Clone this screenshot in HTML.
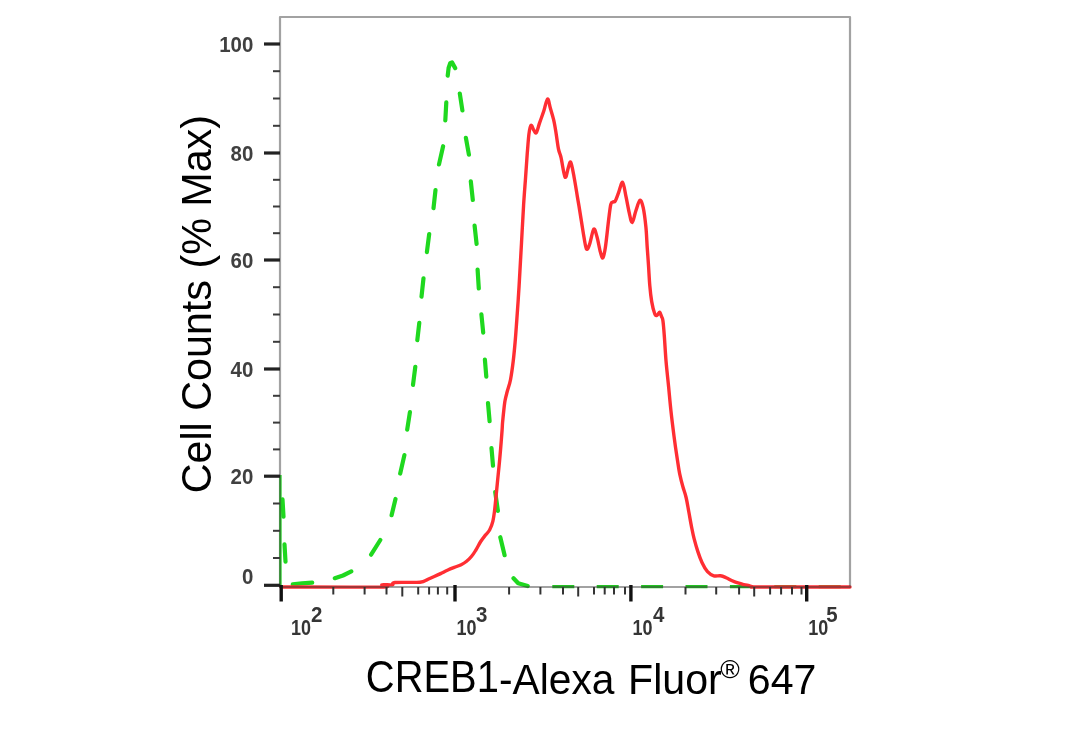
<!DOCTYPE html><html><head><meta charset="utf-8"><style>html,body{margin:0;padding:0;background:#fff;overflow:hidden}svg{display:block;filter:blur(0.35px)}</style></head><body><svg width="1084" height="729" viewBox="0 0 1084 729">
<rect width="1084" height="729" fill="#fff"/>
<line x1="280.4" y1="475" x2="280.4" y2="586" stroke="#1fd81f" stroke-width="2.4"/>
<path d="M282.5 499.3 L283.5 516.7 M284.5 544.3 L285.5 561.7 M292.8 584.4 L302.0 583.3 L312.2 582.6 M334.8 578.2 L343.0 575.5 L351.3 571.4 M371.1 554.7 L380.3 540.0 M391.6 515.2 L395.5 499.0 M400.2 473.5 L404.4 455.1 M407.2 429.6 L409.9 412.2 M413.0 384.9 L415.3 366.8 M417.3 340.2 L419.3 322.8 M421.5 296.7 L423.5 278.3 M426.9 252.1 L429.2 234.0 M433.5 208.2 L435.5 190.1 M439.0 164.4 L443.1 146.2 M445.3 120.5 L446.3 102.3 M447.7 75.7 L448.6 68.0 L450.2 63.2 L452.0 62.4 L455.2 68.1 M459.8 93.5 L462.4 110.5 M465.9 137.8 L468.9 154.7 M470.8 181.3 L472.8 200.0 M474.6 225.7 L476.6 243.9 M477.6 269.6 L478.8 288.5 M481.4 314.4 L483.2 332.6 M484.9 359.7 L486.3 376.6 M488.0 403.0 L489.6 421.2 M491.5 448.1 L493.0 465.7 M495.2 492.0 L497.9 510.9 M500.3 537.2 L504.6 555.2 M513.5 578.2 L518.2 583.2 L527.7 586.0" fill="none" stroke="#1fd81f" stroke-width="4.2" stroke-linecap="round" stroke-linejoin="round"/>
<path d="M552.3 586.6 L574.3 586.6 M596.7 586.6 L618.7 586.6 M641.1 586.6 L663.1 586.6 M685.5 586.6 L707.5 586.6 M729.9 586.6 L751.9 586.6 M774.3 586.6 L796.3 586.6 M818.7 586.6 L840.7 586.6" fill="none" stroke="#22c322" stroke-width="3.4"/>
<path d="M281.0 587.0 C297.6 587.0 363.5 587.4 380.3 587.0 C397.1 586.6 380.0 585.2 382.0 584.8 C384.0 584.4 390.1 585.2 392.3 584.8 C394.5 584.4 390.4 582.9 395.0 582.5 C399.6 582.1 414.7 582.7 420.0 582.2 C425.3 581.8 424.6 580.7 426.9 579.8 C429.2 578.9 431.4 577.7 433.7 576.7 C436.0 575.7 438.3 574.7 440.6 573.6 C442.9 572.5 445.1 571.2 447.4 570.2 C449.7 569.2 452.0 568.3 454.3 567.4 C456.6 566.5 459.1 565.7 461.2 564.7 C463.2 563.7 464.9 562.7 466.6 561.3 C468.3 559.9 469.9 558.3 471.4 556.5 C472.9 554.7 474.1 553.0 475.6 550.5 C477.2 548.0 479.1 544.0 480.7 541.5 C482.3 539.0 483.7 537.3 485.2 535.4 C486.7 533.5 488.3 532.4 489.6 530.0 C490.9 527.6 492.1 524.4 492.9 521.1 C493.7 517.8 494.1 514.3 494.6 510.4 C495.1 506.5 495.4 502.4 495.9 497.9 C496.3 493.4 496.8 489.0 497.3 483.6 C497.8 478.2 498.5 471.6 499.1 465.7 C499.7 459.8 500.2 453.8 500.7 447.9 C501.2 441.9 501.8 434.3 502.1 430.0 C502.4 425.7 502.3 425.3 502.6 422.2 C502.9 419.1 503.3 414.8 503.7 411.2 C504.1 407.6 504.5 403.5 505.1 400.3 C505.7 397.1 506.2 395.4 507.1 392.0 C508.0 388.6 509.5 384.9 510.5 379.7 C511.5 374.4 512.5 367.1 513.3 360.5 C514.1 353.9 514.7 346.8 515.3 340.0 C515.9 333.2 516.3 326.7 516.8 320.0 C517.3 313.3 517.8 306.6 518.2 300.0 C518.6 293.4 518.9 289.8 519.4 280.3 C519.9 270.8 520.8 255.6 521.5 243.0 C522.2 230.4 522.9 216.0 523.6 205.0 C524.3 194.0 525.0 185.7 525.6 177.2 C526.2 168.7 526.7 161.2 527.2 154.1 C527.8 147.0 528.3 139.2 528.9 134.4 C529.5 129.6 530.2 126.0 531.0 125.3 C531.8 124.6 532.9 129.1 533.8 130.3 C534.7 131.5 535.3 133.9 536.3 132.7 C537.3 131.5 538.4 126.5 539.6 122.9 C540.8 119.3 542.4 115.3 543.7 111.3 C545.0 107.3 546.4 99.5 547.5 99.0 C548.6 98.5 549.3 104.6 550.3 108.0 C551.3 111.4 552.6 115.5 553.6 119.6 C554.6 123.7 555.2 127.8 556.0 132.7 C556.8 137.6 557.7 145.1 558.5 149.2 C559.3 153.3 559.9 152.7 561.0 157.4 C562.1 162.1 563.9 175.5 565.1 177.2 C566.3 178.8 567.5 169.8 568.4 167.3 C569.3 164.8 569.8 160.8 570.8 162.4 C571.8 164.1 573.0 171.4 574.1 177.2 C575.2 182.9 576.6 192.1 577.4 196.9 C578.2 201.7 578.0 200.2 579.0 206.1 C580.0 212.0 582.0 225.3 583.2 232.4 C584.4 239.5 585.3 246.9 586.4 248.8 C587.5 250.7 588.5 247.2 589.7 243.9 C590.9 240.6 592.6 230.2 593.8 229.1 C595.0 228.0 596.0 233.5 597.1 237.3 C598.2 241.1 599.4 248.7 600.4 252.1 C601.4 255.5 602.1 258.7 602.9 257.9 C603.7 257.1 604.4 253.6 605.4 247.2 C606.4 240.8 607.8 226.3 608.7 219.2 C609.6 212.1 610.1 207.3 610.8 204.4 C611.5 201.5 612.4 202.5 613.1 201.9 C613.8 201.3 614.3 202.6 615.2 201.1 C616.1 199.6 617.3 196.1 618.5 192.9 C619.7 189.8 621.4 181.6 622.6 182.2 C623.8 182.8 624.8 191.1 625.9 196.2 C627.0 201.3 628.2 208.2 629.2 212.6 C630.2 217.0 631.1 222.8 632.2 222.5 C633.3 222.2 634.5 214.7 635.8 211.0 C637.1 207.3 638.7 200.9 639.9 200.3 C641.1 199.8 642.2 203.2 643.2 207.7 C644.2 212.1 645.2 220.2 645.9 227.0 C646.6 233.8 646.8 241.8 647.3 248.5 C647.8 255.2 648.2 260.8 648.6 267.0 C649.0 273.2 649.3 279.8 649.8 285.6 C650.3 291.4 650.9 296.9 651.7 301.6 C652.5 306.3 653.9 311.7 654.8 314.0 C655.7 316.3 656.4 315.5 657.2 315.2 C658.0 314.9 659.0 311.9 659.7 312.1 C660.4 312.3 661.0 315.0 661.5 316.4 C662.0 317.8 662.4 317.1 662.9 320.5 C663.4 323.9 663.9 330.2 664.4 337.1 C664.9 344.0 665.4 353.6 666.1 361.9 C666.8 370.1 667.8 378.4 668.6 386.6 C669.4 394.9 670.1 403.1 671.0 411.4 C671.9 419.6 673.0 428.3 674.0 436.1 C675.0 443.9 676.2 452.0 677.2 458.4 C678.2 464.8 678.8 469.6 679.8 474.3 C680.8 479.0 681.8 482.9 682.9 486.8 C684.0 490.7 685.1 493.3 686.1 497.5 C687.1 501.7 687.9 507.0 688.8 511.8 C689.7 516.6 690.5 521.6 691.4 526.1 C692.3 530.6 693.0 534.4 694.1 538.6 C695.2 542.8 696.4 547.1 697.7 551.1 C699.0 555.1 700.5 559.3 702.1 562.7 C703.7 566.1 705.5 569.4 707.5 571.6 C709.5 573.8 711.6 575.1 713.8 575.8 C716.0 576.5 718.5 575.5 720.5 575.8 C722.5 576.1 724.2 576.9 726.1 577.7 C728.0 578.5 729.8 579.7 731.6 580.5 C733.4 581.3 735.2 582.1 737.1 582.7 C739.0 583.3 740.9 583.8 742.7 584.3 C744.6 584.8 746.4 584.9 748.2 585.4 C750.0 585.9 751.5 586.7 753.5 587.0 C755.5 587.3 743.9 587.0 760.0 587.0 C776.1 587.0 835.0 587.0 850.0 587.0" fill="none" stroke="#ff2e33" stroke-width="3.4" stroke-linejoin="round" stroke-linecap="round"/>
<path d="M280 587 V17 H850 V587 Z" fill="none" stroke="#3c3c3c" stroke-opacity="0.48" stroke-width="2.2" stroke-linejoin="round"/>
<line x1="264" y1="585.3" x2="280" y2="585.3" stroke="#222" stroke-width="3.2"/>
<line x1="273" y1="558.0" x2="280" y2="558.0" stroke="#3a3a3a" stroke-width="2"/>
<line x1="273" y1="530.8" x2="280" y2="530.8" stroke="#3a3a3a" stroke-width="2"/>
<line x1="273" y1="503.5" x2="280" y2="503.5" stroke="#3a3a3a" stroke-width="2"/>
<line x1="264" y1="476.2" x2="280" y2="476.2" stroke="#222" stroke-width="3.2"/>
<line x1="273" y1="449.4" x2="280" y2="449.4" stroke="#3a3a3a" stroke-width="2"/>
<line x1="273" y1="422.6" x2="280" y2="422.6" stroke="#3a3a3a" stroke-width="2"/>
<line x1="273" y1="395.8" x2="280" y2="395.8" stroke="#3a3a3a" stroke-width="2"/>
<line x1="264" y1="369.0" x2="280" y2="369.0" stroke="#222" stroke-width="3.2"/>
<line x1="273" y1="341.8" x2="280" y2="341.8" stroke="#3a3a3a" stroke-width="2"/>
<line x1="273" y1="314.5" x2="280" y2="314.5" stroke="#3a3a3a" stroke-width="2"/>
<line x1="273" y1="287.2" x2="280" y2="287.2" stroke="#3a3a3a" stroke-width="2"/>
<line x1="264" y1="260.0" x2="280" y2="260.0" stroke="#222" stroke-width="3.2"/>
<line x1="273" y1="233.2" x2="280" y2="233.2" stroke="#3a3a3a" stroke-width="2"/>
<line x1="273" y1="206.5" x2="280" y2="206.5" stroke="#3a3a3a" stroke-width="2"/>
<line x1="273" y1="179.8" x2="280" y2="179.8" stroke="#3a3a3a" stroke-width="2"/>
<line x1="264" y1="153.0" x2="280" y2="153.0" stroke="#222" stroke-width="3.2"/>
<line x1="273" y1="125.8" x2="280" y2="125.8" stroke="#3a3a3a" stroke-width="2"/>
<line x1="273" y1="98.5" x2="280" y2="98.5" stroke="#3a3a3a" stroke-width="2"/>
<line x1="273" y1="71.2" x2="280" y2="71.2" stroke="#3a3a3a" stroke-width="2"/>
<line x1="264" y1="44.0" x2="280" y2="44.0" stroke="#222" stroke-width="3.2"/>
<line x1="281.2" y1="585" x2="281.2" y2="601.5" stroke="#111" stroke-width="3.4"/>
<line x1="455.0" y1="585" x2="455.0" y2="601.5" stroke="#111" stroke-width="3.4"/>
<line x1="630.9" y1="585" x2="630.9" y2="601.5" stroke="#111" stroke-width="3.4"/>
<line x1="806.7" y1="585" x2="806.7" y2="601.5" stroke="#111" stroke-width="3.4"/>
<line x1="333.3" y1="587" x2="333.3" y2="594.5" stroke="#333" stroke-width="2"/>
<line x1="364.6" y1="587" x2="364.6" y2="594.5" stroke="#333" stroke-width="2"/>
<line x1="386.5" y1="587" x2="386.5" y2="594.5" stroke="#333" stroke-width="2"/>
<line x1="402.3" y1="587" x2="402.3" y2="596.5" stroke="#333" stroke-width="2"/>
<line x1="418.2" y1="587" x2="418.2" y2="594.5" stroke="#333" stroke-width="2"/>
<line x1="429.1" y1="587" x2="429.1" y2="594.5" stroke="#333" stroke-width="2"/>
<line x1="437.9" y1="587" x2="437.9" y2="594.5" stroke="#333" stroke-width="2"/>
<line x1="447.2" y1="587" x2="447.2" y2="594.5" stroke="#333" stroke-width="2"/>
<line x1="509.1" y1="587" x2="509.1" y2="594.5" stroke="#333" stroke-width="2"/>
<line x1="540.4" y1="587" x2="540.4" y2="594.5" stroke="#333" stroke-width="2"/>
<line x1="563.0" y1="587" x2="563.0" y2="594.5" stroke="#333" stroke-width="2"/>
<line x1="578.2" y1="587" x2="578.2" y2="596.5" stroke="#333" stroke-width="2"/>
<line x1="594.0" y1="587" x2="594.0" y2="594.5" stroke="#333" stroke-width="2"/>
<line x1="604.7" y1="587" x2="604.7" y2="594.5" stroke="#333" stroke-width="2"/>
<line x1="614.0" y1="587" x2="614.0" y2="594.5" stroke="#333" stroke-width="2"/>
<line x1="625.0" y1="587" x2="625.0" y2="594.5" stroke="#333" stroke-width="2"/>
<line x1="685.5" y1="587" x2="685.5" y2="594.5" stroke="#333" stroke-width="2"/>
<line x1="716.2" y1="587" x2="716.2" y2="594.5" stroke="#333" stroke-width="2"/>
<line x1="739.1" y1="587" x2="739.1" y2="594.5" stroke="#333" stroke-width="2"/>
<line x1="754.2" y1="587" x2="754.2" y2="596.5" stroke="#333" stroke-width="2"/>
<line x1="770.1" y1="587" x2="770.1" y2="594.5" stroke="#333" stroke-width="2"/>
<line x1="781.1" y1="587" x2="781.1" y2="594.5" stroke="#333" stroke-width="2"/>
<line x1="792.0" y1="587" x2="792.0" y2="594.5" stroke="#333" stroke-width="2"/>
<line x1="801.5" y1="587" x2="801.5" y2="594.5" stroke="#333" stroke-width="2"/>
<text transform="translate(253.3 584.0) scale(0.93 1)" text-anchor="end" font-family="Liberation Sans, Arial, Helvetica, sans-serif" font-size="22" font-weight="bold" fill="#404040">0</text>
<text transform="translate(253.3 484.0) scale(0.93 1)" text-anchor="end" font-family="Liberation Sans, Arial, Helvetica, sans-serif" font-size="22" font-weight="bold" fill="#404040">20</text>
<text transform="translate(253.3 376.8) scale(0.93 1)" text-anchor="end" font-family="Liberation Sans, Arial, Helvetica, sans-serif" font-size="22" font-weight="bold" fill="#404040">40</text>
<text transform="translate(253.3 267.8) scale(0.93 1)" text-anchor="end" font-family="Liberation Sans, Arial, Helvetica, sans-serif" font-size="22" font-weight="bold" fill="#404040">60</text>
<text transform="translate(253.3 160.8) scale(0.93 1)" text-anchor="end" font-family="Liberation Sans, Arial, Helvetica, sans-serif" font-size="22" font-weight="bold" fill="#404040">80</text>
<text transform="translate(253.3 51.8) scale(0.93 1)" text-anchor="end" font-family="Liberation Sans, Arial, Helvetica, sans-serif" font-size="22" font-weight="bold" fill="#404040">100</text>
<text transform="translate(291.0 635.3) scale(0.8 1)" font-family="Liberation Sans, Arial, Helvetica, sans-serif" font-size="22.5" font-weight="bold" fill="#353535">10</text>
<text transform="translate(310.9 622) scale(0.93 1)" font-family="Liberation Sans, Arial, Helvetica, sans-serif" font-size="22" font-weight="bold" fill="#353535">2</text>
<text transform="translate(456.4 635.3) scale(0.8 1)" font-family="Liberation Sans, Arial, Helvetica, sans-serif" font-size="22.5" font-weight="bold" fill="#353535">10</text>
<text transform="translate(476.0 622) scale(0.93 1)" font-family="Liberation Sans, Arial, Helvetica, sans-serif" font-size="22" font-weight="bold" fill="#353535">3</text>
<text transform="translate(632.4 635.3) scale(0.8 1)" font-family="Liberation Sans, Arial, Helvetica, sans-serif" font-size="22.5" font-weight="bold" fill="#353535">10</text>
<text transform="translate(653.0 622) scale(0.93 1)" font-family="Liberation Sans, Arial, Helvetica, sans-serif" font-size="22" font-weight="bold" fill="#353535">4</text>
<text transform="translate(808.2 635.3) scale(0.8 1)" font-family="Liberation Sans, Arial, Helvetica, sans-serif" font-size="22.5" font-weight="bold" fill="#353535">10</text>
<text transform="translate(826.3 622) scale(0.93 1)" font-family="Liberation Sans, Arial, Helvetica, sans-serif" font-size="22" font-weight="bold" fill="#353535">5</text>
<text transform="translate(365.8 692) scale(0.918 1)" font-family="Liberation Sans, Arial, Helvetica, sans-serif" font-size="43.5" fill="#000">CREB1</text>
<text transform="translate(499 694) scale(0.958 1)" font-family="Liberation Sans, Arial, Helvetica, sans-serif" font-size="42.5" fill="#000">-Alexa</text>
<text transform="translate(628.1 694) scale(0.967 1)" font-family="Liberation Sans, Arial, Helvetica, sans-serif" font-size="42.5" fill="#000">Fluor</text>
<text transform="translate(720.3 678)" font-family="Liberation Sans, Arial, Helvetica, sans-serif" font-size="26.5" fill="#000">®</text>
<text transform="translate(747.8 694) scale(0.967 1)" font-family="Liberation Sans, Arial, Helvetica, sans-serif" font-size="42.5" fill="#000">647</text>
<text transform="translate(210.5 493.3) rotate(-90) scale(0.971 1)" font-family="Liberation Sans, Arial, Helvetica, sans-serif" font-size="42.5" fill="#000">Cell Counts (% Max)</text>
</svg></body></html>
